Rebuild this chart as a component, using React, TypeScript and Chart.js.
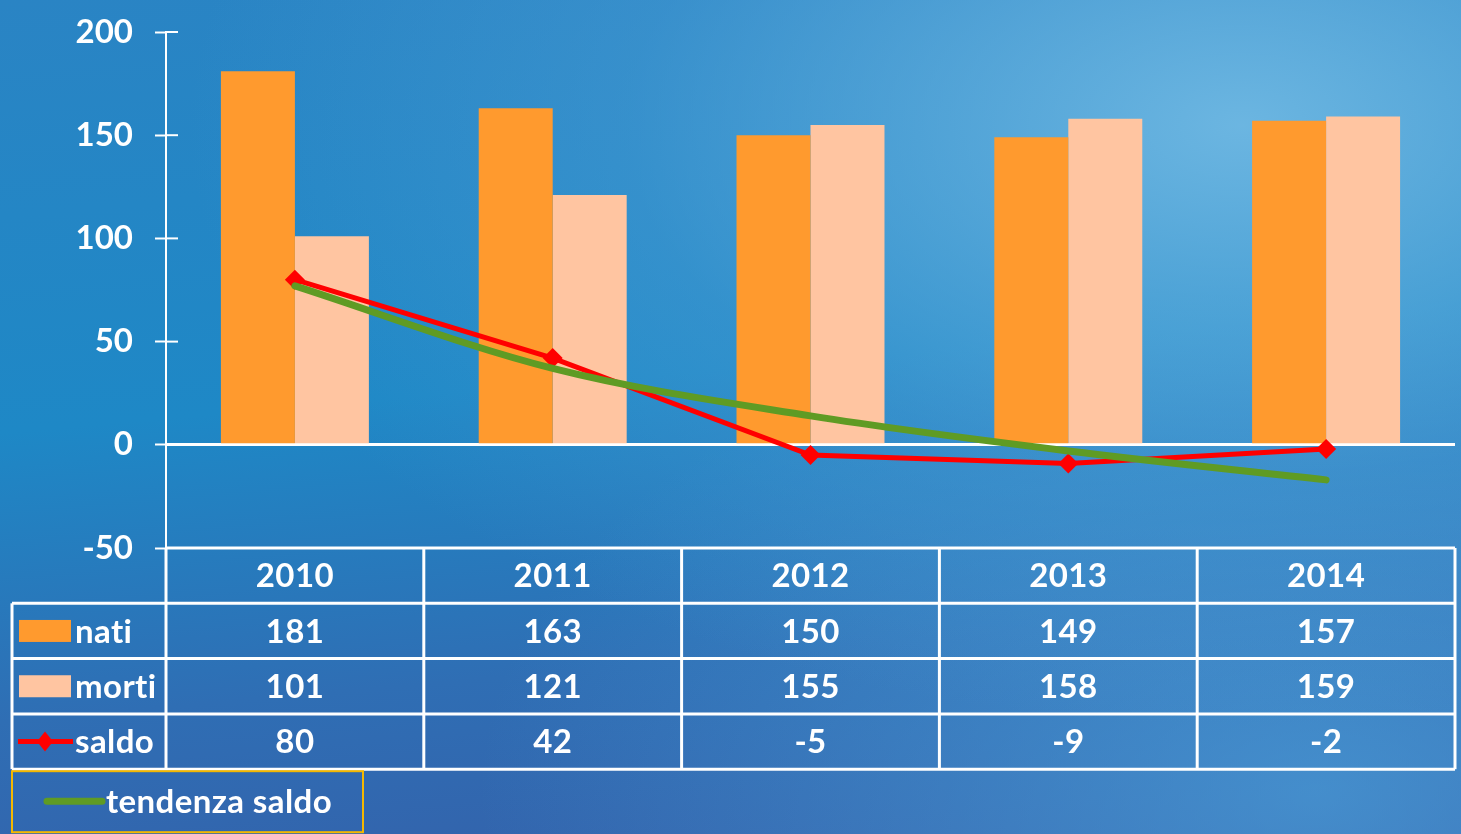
import React, { useEffect, useRef } from "react";
import { Chart, registerables } from "chart.js";

Chart.register(...registerables);

const years = ["2010", "2011", "2012", "2013", "2014"];
const nati = [181, 163, 150, 149, 157];
const morti = [101, 121, 155, 158, 159];
const saldo = [80, 42, -5, -9, -2];
const tendenza = [77, 37, 14, -3, -17];
const yTicks = [-50, 0, 50, 100, 150, 200];

const FONT = "Lato, 'Open Sans', sans-serif";
const FSIZE = 33;
const C_NATI = "#FF9A2E";
const C_MORTI = "#FFC5A1";
const C_SALDO = "#FF0000";
const C_TREND = "#5F9B24";

const tablePlugin = {
  id: "dataTable",
  afterDraw(chart: any) {
    const ctx = chart.ctx as any;
    const area = chart.chartArea;
    const xs = chart.scales.x;
    const ys = chart.scales.y;
    const n = years.length;
    const cw = (area.right - area.left) / n;
    const top = area.bottom;
    const rowH = 55.3;
    const leftX = 12;
    ctx.save();
    ctx.strokeStyle = "#fff";
    ctx.lineWidth = 2;
    yTicks.forEach((v) => {
      const py = ys.getPixelForValue(v);
      ctx.beginPath();
      ctx.moveTo(area.left, py);
      ctx.lineTo(area.left + 12, py);
      ctx.stroke();
    });
    ctx.lineWidth = 3;
    ctx.strokeStyle = "#fff";
    for (let r = 0; r <= 4; r++) {
      const y = top + r * rowH;
      ctx.beginPath();
      ctx.moveTo(r === 0 ? area.left : leftX, y);
      ctx.lineTo(area.right, y);
      ctx.stroke();
    }
    for (let c = 0; c <= n; c++) {
      const x = area.left + c * cw;
      ctx.beginPath();
      ctx.moveTo(x, top);
      ctx.lineTo(x, top + 4 * rowH);
      ctx.stroke();
    }
    ctx.beginPath();
    ctx.moveTo(leftX, top + rowH);
    ctx.lineTo(leftX, top + 4 * rowH);
    ctx.stroke();

    ctx.fillStyle = "#fff";
    ctx.font = `bold ${FSIZE}px ${FONT}`;
    ctx.letterSpacing = "0.4px";
    ctx.textAlign = "center";
    ctx.textBaseline = "middle";
    const rows = [years, nati, morti, saldo];
    rows.forEach((row, r) => {
      const cy = top + r * rowH + rowH / 2 + 1;
      row.forEach((v: any, i: number) => {
        ctx.fillText(String(v), xs.getPixelForValue(i), cy);
      });
    });

    ctx.textAlign = "left";
    const labels = ["nati", "morti", "saldo"];
    labels.forEach((lab, k) => {
      const cy = top + (k + 1) * rowH + rowH / 2;
      if (k < 2) {
        ctx.fillStyle = k === 0 ? C_NATI : C_MORTI;
        ctx.fillRect(19, cy - 11, 52, 22);
      } else {
        ctx.strokeStyle = C_SALDO;
        ctx.lineWidth = 5;
        ctx.beginPath();
        ctx.moveTo(18, cy);
        ctx.lineTo(73, cy);
        ctx.stroke();
        ctx.fillStyle = C_SALDO;
        ctx.beginPath();
        ctx.moveTo(45, cy - 10);
        ctx.lineTo(53, cy);
        ctx.lineTo(45, cy + 10);
        ctx.lineTo(37, cy);
        ctx.closePath();
        ctx.fill();
      }
      ctx.fillStyle = "#fff";
      ctx.fillText(lab, 75, cy + 1);
    });

    const by = top + 4 * rowH + 2;
    ctx.strokeStyle = "#F5B800";
    ctx.lineWidth = 2;
    ctx.strokeRect(12, by, 351, 61);
    ctx.strokeStyle = C_TREND;
    ctx.lineWidth = 7;
    ctx.lineCap = "round";
    ctx.beginPath();
    ctx.moveTo(47, by + 30);
    ctx.lineTo(102, by + 30);
    ctx.stroke();
    ctx.fillStyle = "#fff";
    ctx.fillText("tendenza saldo", 106, by + 31);
    ctx.restore();
  },
};

export default function App() {
  const ref = useRef<HTMLCanvasElement>(null);
  useEffect(() => {
    const chart = new Chart(ref.current!, {
      type: "bar",
      data: {
        labels: years,
        datasets: [
          {
            type: "line",
            label: "tendenza saldo",
            data: tendenza,
            borderColor: C_TREND,
            borderWidth: 7,
            pointRadius: 0,
            cubicInterpolationMode: "monotone",
            borderCapStyle: "round",
            order: 0,
          } as any,
          {
            type: "line",
            label: "saldo",
            data: saldo,
            borderColor: C_SALDO,
            backgroundColor: C_SALDO,
            borderWidth: 5,
            pointStyle: "rectRot",
            pointRadius: 10,
            pointBorderWidth: 0,
            order: 1,
          } as any,
          {
            label: "nati",
            data: nati,
            backgroundColor: C_NATI,
            order: 2,
          },
          {
            label: "morti",
            data: morti,
            backgroundColor: C_MORTI,
            order: 2,
          },
        ],
      },
      options: {
        animation: false,
        responsive: false,
        layout: { autoPadding: false, padding: { top: 32, right: 6, bottom: 286, left: 0 } },
        datasets: { bar: { categoryPercentage: 0.574, barPercentage: 1.0 } },
        plugins: { legend: { display: false }, tooltip: { enabled: false } },
        scales: {
          x: { display: false },
          y: {
            min: -50,
            max: 200,
            afterFit: (s: any) => {
              s.width = 166;
              s.paddingTop = 0;
              s.paddingBottom = 0;
            },
            ticks: {
              stepSize: 50,
              color: "#fff",
              padding: 22,
              font: { family: FONT, size: FSIZE, weight: "bold" },
            },
            border: { color: "#fff", width: 2 },
            grid: {
              drawOnChartArea: true,
              color: (c: any) => (c.tick && c.tick.value === 0 ? "#fff" : "rgba(0,0,0,0)"),
              lineWidth: 3,
              tickColor: "#fff",
              tickLength: 11,
              tickWidth: 2,
            },
          },
        },
      },
      plugins: [tablePlugin],
    } as any);
    return () => chart.destroy();
  }, []);
  return (
    <div
      style={{
        position: "fixed",
        left: 0,
        top: 0,
        width: 1461,
        height: 834,
        background:
          "radial-gradient(ellipse at 85% 15%, rgba(120,190,230,0.85) 0%, rgba(80,160,215,0.4) 35%, rgba(0,0,0,0) 60%), radial-gradient(ellipse at 90% 95%, rgba(80,170,225,0.6) 0%, rgba(0,0,0,0) 45%), linear-gradient(175deg, #2A84C4 0%, #1E88C6 45%, #2F6EB4 75%, #3460AA 100%)",
      }}
    >
      <canvas ref={ref} width={1461} height={834} style={{ display: "block" }} />
    </div>
  );
}
